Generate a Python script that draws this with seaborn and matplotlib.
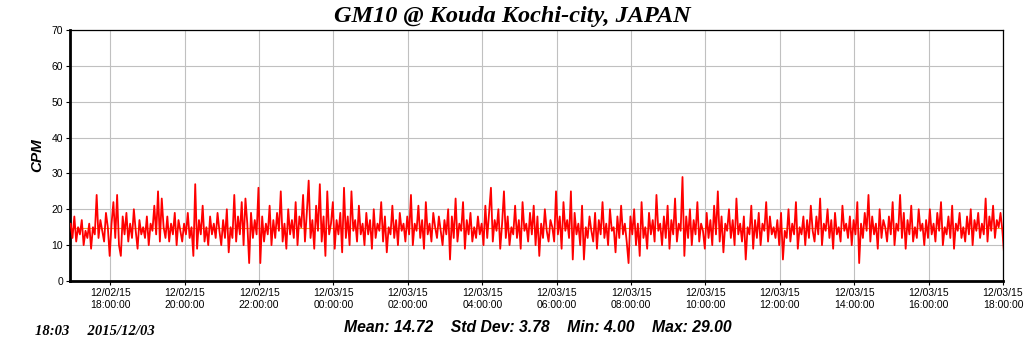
import matplotlib
matplotlib.use("Agg")
import matplotlib.pyplot as plt
import matplotlib.dates as mdates
import numpy as np
import pandas as pd
import seaborn as sns

# CPM readings, one every 3 minutes (one row = one hour)
cpm_evening = [
    16, 12, 18, 11, 15, 13, 17, 10, 14, 12, 16, 9, 15, 13, 24, 12, 17, 14, 11, 19,
    15, 7, 16, 22, 12, 24, 10, 7, 18, 13, 19, 11, 16, 12, 20, 14, 9, 17, 13, 15,
    12, 18, 10, 16, 14, 21, 13, 25, 11, 23, 15, 12, 18, 11, 16, 13, 19, 10, 17, 14,
    11, 16, 13, 19, 12, 15, 7, 27, 9, 17, 13, 21, 11, 15, 10, 18, 13, 16, 12, 19,
    14, 10, 17, 12, 20, 8, 15, 12, 24, 11, 18, 13, 22, 10, 23, 16, 5, 19, 12, 17,
    13, 26, 5, 18, 11, 16, 13, 21, 10, 17, 12, 19, 14, 25, 11, 16, 9, 20, 13, 17,
    12, 22, 10, 18, 15, 24, 11, 19, 28, 12, 17, 9, 21, 14, 27, 11, 18, 7, 25, 13,
]
cpm_night = [
    16, 22, 9, 17, 13, 19, 8, 26, 12, 18, 10, 25, 14, 17, 11, 21, 13, 16, 10, 19,
    13, 17, 9, 20, 12, 16, 14, 22, 11, 18, 8, 15, 13, 21, 12, 17, 10, 19, 14, 16,
    11, 18, 13, 24, 10, 16, 14, 21, 12, 17, 9, 22, 13, 16, 11, 19, 15, 12, 18, 14,
    10, 17, 13, 20, 6, 18, 12, 23, 11, 16, 14, 22, 9, 17, 13, 19, 11, 15, 12, 18,
    13, 16, 10, 21, 12, 19, 26, 11, 17, 14, 20, 9, 16, 25, 12, 18, 10, 15, 13, 21,
    12, 17, 9, 22, 14, 16, 11, 19, 13, 21, 10, 18, 7, 16, 12, 20, 14, 11, 17, 15,
    11, 25, 13, 18, 9, 22, 14, 17, 12, 25, 6, 19, 13, 16, 10, 21, 6, 15, 12, 18,
    14, 11, 19, 9, 17, 13, 22, 12, 16, 10, 20, 14, 15, 8, 18, 12, 21, 13, 16, 11,
]
cpm_day = [
    5, 18, 13, 20, 10, 16, 7, 22, 12, 15, 9, 19, 13, 17, 11, 24, 14, 16, 10, 18,
    12, 21, 9, 17, 13, 23, 11, 16, 14, 29, 7, 18, 12, 20, 10, 17, 13, 22, 11, 16,
    14, 9, 19, 12, 17, 10, 21, 13, 25, 11, 18, 8, 16, 14, 20, 12, 17, 10, 23, 13,
    16, 11, 18, 6, 15, 13, 21, 9, 17, 12, 19, 10, 16, 14, 22, 11, 18, 13, 15, 12,
    17, 10, 19, 6, 14, 12, 20, 11, 16, 13, 22, 9, 15, 13, 18, 10, 17, 12, 21, 14,
    11, 18, 13, 23, 10, 16, 14, 20, 12, 17, 9, 19, 13, 15, 11, 21, 14, 16, 12, 18,
    10, 17, 13, 22, 5, 16, 12, 19, 14, 24, 11, 18, 13, 16, 9, 20, 12, 17, 15, 11,
    18, 13, 22, 10, 16, 14, 24, 12, 19, 9, 17, 13, 21, 11, 15, 12, 20, 14, 16, 10,
    17, 12, 20, 13, 16, 11, 19, 14, 22, 10, 15, 13, 18, 12, 21, 9, 16, 14, 19, 12,
    15, 11, 18, 13, 20, 10, 17, 14, 19, 12, 16, 13, 23, 11, 18, 14, 21, 12, 17, 15,
    19, 14, 7,
]
cpm = cpm_evening + cpm_night + cpm_day
times = pd.date_range("2015-12-02 16:56", periods=len(cpm), freq="3min")

title = "GM10 @ Kouda Kochi-city, JAPAN"
stats_text = "Mean: 14.72    Std Dev: 3.78    Min: 4.00    Max: 29.00"
stamp_text = "18:03     2015/12/03"
mean_cpm = 14.72

df = pd.DataFrame({"time": times, "cpm": cpm})

sns.set_style("ticks")
plt.rcParams["font.family"] = ["Liberation Sans", "DejaVu Sans"]
plt.rcParams["text.color"] = "black"

fig = plt.figure(figsize=(10.24, 3.51), dpi=100)
ax = fig.add_axes([70 / 1024, 70 / 351, 933 / 1024, 251 / 351])

ax.axhline(mean_cpm, color="#f0a030", lw=0.8, zorder=2)
sns.lineplot(data=df, x="time", y="cpm", color="#ff0000", lw=1.3, ax=ax, zorder=3)

ax.set_ylim(0, 70)
ax.set_yticks(range(0, 71, 10))
ax.set_xlim(pd.Timestamp("2015-12-02 16:55"), pd.Timestamp("2015-12-03 18:00"))
ax.xaxis.set_major_locator(mdates.HourLocator(byhour=range(0, 24, 2)))
ax.xaxis.set_major_formatter(mdates.DateFormatter("%m/%d/%y\n%H:%M:%S"))

ax.grid(True, color="#c0c0c0", lw=0.8)
ax.tick_params(axis="both", labelsize=7.5, length=3, width=0.8, color="black",
               labelcolor="black", pad=2)
ax.set_xlabel("")
ax.set_ylabel("CPM", fontsize=11, fontweight="bold", fontstyle="italic",
              labelpad=5, color="black")

for side in ["left", "bottom"]:
    ax.spines[side].set_linewidth(2.0)
for side in ["top", "right"]:
    ax.spines[side].set_linewidth(0.9)
for s in ax.spines.values():
    s.set_color("black")

fig.text(0.5, 0.953, title, ha="center", va="center", fontsize=17.5,
         fontweight="bold", fontstyle="italic", color="black",
         family=["Liberation Serif", "DejaVu Serif"])
fig.text(0.525, 0.068, stats_text, ha="center", va="center", fontsize=11.3,
         fontweight="bold", fontstyle="italic", color="black",
         family=["Liberation Sans", "DejaVu Sans"])
fig.text(0.034, 0.056, stamp_text, ha="left", va="center", fontsize=10.5,
         fontweight="bold", fontstyle="italic", color="black",
         family=["Liberation Serif", "DejaVu Serif"])

fig.savefig("out.png", dpi=100)
